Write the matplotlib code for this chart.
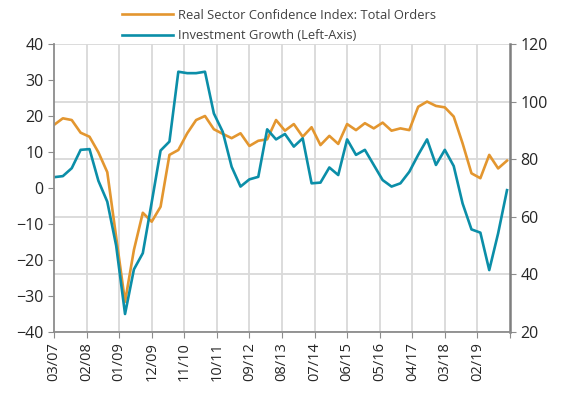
import matplotlib.pyplot as plt
import numpy as np

# quarterly data, 03/07 .. 12/19
investment_growth = [3.0, 3.3, 5.5, 10.6, 10.8, 2.0, -3.8, -16.0, -35.0,
                     -22.6, -18.1, -4.0, 10.4, 12.9, 32.3, 31.9, 31.9, 32.3,
                     20.7, 15.6, 5.9, 0.4, 2.4, 3.1, 16.3, 13.5,
                     15.0, 11.5, 13.8, 1.3, 1.5, 5.7, 3.6, 13.5,
                     9.2, 10.6, 6.4, 2.2, 0.4, 1.3, 4.5, 9.2, 13.5,
                     6.4, 10.6, 6.1, -4.3, -11.5, -12.4, -22.8, -12.6, -0.6]
total_orders = [91.9, 94.2, 93.6, 89.2, 87.8, 82.4, 75.5, 53.0, 30.5,
                48.5, 61.4, 58.3, 63.5, 81.5, 83.2, 89.0, 93.6, 95.0,
                90.4, 88.8, 87.3, 89.0, 84.6, 86.4, 86.9, 93.6,
                89.9, 92.2, 87.8, 91.1, 84.9, 88.1, 85.3, 92.2,
                90.1, 92.5, 90.7, 92.7, 89.9, 90.7, 90.1, 98.2, 100.0,
                98.5, 98.0, 94.8, 85.5, 75.1, 73.4, 81.5, 76.8, 79.5]
tick_labels = ["03/07", "02/08", "01/09", "12/09", "11/10", "10/11", "09/12",
               "08/13", "07/14", "06/15", "05/16", "04/17", "03/18", "02/19", ""]

orange = "#e3962f"
teal = "#0b8ea8"
grid_c = "#d9d9d9"
spine_c = "#8c8c8c"

plt.rcParams["font.family"] = ["Open Sans", "DejaVu Sans"]

months = np.arange(len(investment_growth)) * 3  # months since 03/07

fig = plt.figure(figsize=(5.64, 4.0), dpi=100)
ax = fig.add_axes([0.0957, 0.17, 0.8085, 0.72])
ax2 = ax.twinx()

l2, = ax2.plot(months, total_orders, color=orange, lw=1.9,
               label="Real Sector Confidence Index: Total Orders")
l1, = ax.plot(months, investment_growth, color=teal, lw=1.9,
              label="Investment Growth (Left-Axis)")

# teal line above the orange one
ax.set_zorder(ax2.get_zorder() + 1)
ax.patch.set_visible(False)

ax.set_xlim(0, 154)
ax.set_xticks(np.arange(len(tick_labels)) * 11)
ax.set_xticklabels(tick_labels, rotation=90, fontsize=10.5)
ax.set_ylim(-40, 40)
ax.set_yticks(np.arange(-40, 41, 10))
ax.tick_params(axis="y", labelsize=11.5, colors="#262626", length=4, color=spine_c)
ax.tick_params(axis="x", colors="#262626", length=4, color=spine_c)

ax2.set_ylim(20, 120)
ax2.set_yticks(np.arange(20, 121, 20))
ax2.tick_params(axis="y", labelsize=11.5, colors="#262626", length=4, color=spine_c)

# gridlines: vertical from x ticks, horizontal from right axis
ax2.grid(axis="y", color=grid_c, lw=1.3)
ax2.set_axisbelow(True)
for xv in ax.get_xticks()[1:-1]:
    ax2.axvline(xv, color=grid_c, lw=1.3, zorder=0)

for a in (ax, ax2):
    a.spines["top"].set_visible(False)
    for s in ("left", "right", "bottom"):
        a.spines[s].set_color(spine_c)
        a.spines[s].set_linewidth(1.3)
ax.spines["right"].set_visible(False)
ax2.spines["left"].set_visible(False)
ax2.spines["bottom"].set_visible(False)
ax2.spines["right"].set_color("#7f7f7f")
ax2.spines["right"].set_linewidth(1.8)

fig.legend(handles=[l2, l1], loc="upper left", bbox_to_anchor=(0.203, 0.997),
           frameon=False, fontsize=9.3, handlelength=3.9, handletextpad=0.4,
           labelspacing=0.55, borderaxespad=0.2, labelcolor="#404040")

fig.savefig("out.png", dpi=100)
